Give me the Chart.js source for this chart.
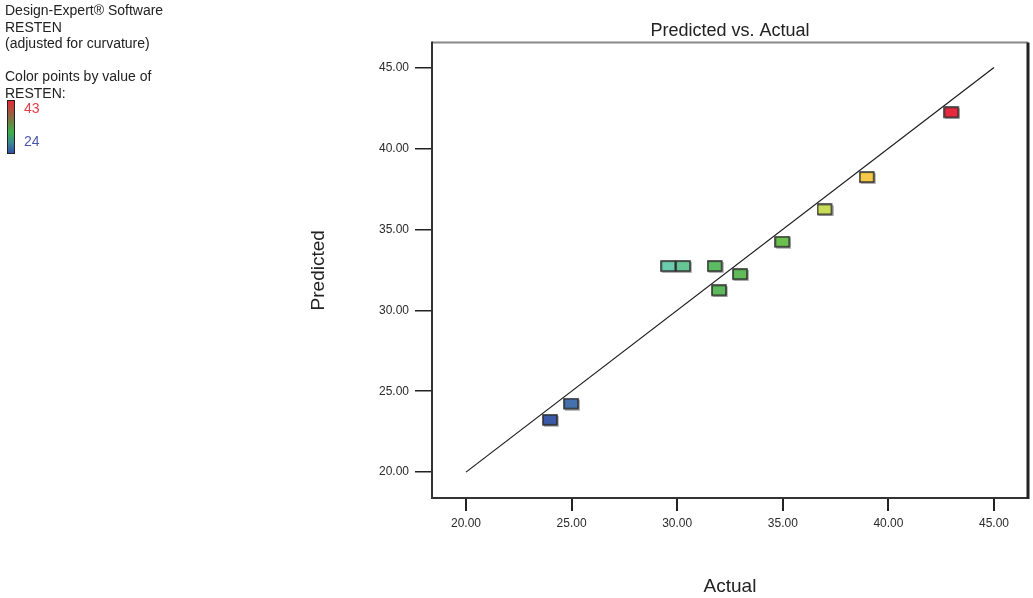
<!DOCTYPE html>
<html>
<head>
<meta charset="utf-8">
<script src="https://cdn.jsdelivr.net/npm/chart.js@4"></script>
<style>
  body { margin: 0; background: #fff; font-family: "Liberation Sans", Arial, sans-serif; }
  #wrap { position: relative; width: 1033px; height: 598px; }
  #note { position: absolute; left: 5px; top: 2px; font-size: 14px; line-height: 16.6px; color: #222; white-space: nowrap; }
  #bar { position: absolute; left: 7px; top: 100px; width: 6px; height: 52px; border: 1px solid #222;
    background: linear-gradient(to bottom, #e82838 0%, #8a6a40 30%, #3cb048 60%, #3a8a90 80%, #3450a8 100%); }
  #hi { position: absolute; left: 24px; top: 100px; font-size: 14px; color: #e43c48; }
  #lo { position: absolute; left: 24px; top: 133px; font-size: 14px; color: #4a58a8; }
</style>
</head>
<body>
<div id="wrap">
  <canvas id="myChart" width="1033" height="598"></canvas>
  <div id="note">Design-Expert® Software<br>RESTEN<br>(adjusted for curvature)<br><br>Color points by value of<br>RESTEN:</div>
  <div id="bar"></div>
  <div id="hi">43</div>
  <div id="lo">24</div>
</div>
<script>
// data
const actual    = [24, 25, 29.6, 30.3, 31.8, 32, 33, 35, 37, 39, 43];
const predicted = [23.2, 24.2, 32.7, 32.7, 32.7, 31.2, 32.2, 34.2, 36.2, 38.2, 42.2];
const lineEnds  = [20, 45];
const tickValues = [20, 25, 30, 35, 40, 45];

// colour ramp used to paint points by their RESTEN value
const ramp = [
  [24, [59, 91, 168]],
  [29, [110, 208, 192]],
  [32, [92, 186, 92]],
  [35, [108, 192, 80]],
  [37, [200, 220, 88]],
  [39, [245, 200, 74]],
  [43, [232, 40, 60]]
];

function colorFor(v) {
  if (v <= ramp[0][0]) return 'rgb(' + ramp[0][1].join(',') + ')';
  for (let i = 1; i < ramp.length; i++) {
    if (v <= ramp[i][0]) {
      const [a, ca] = ramp[i - 1], [b, cb] = ramp[i];
      const t = (v - a) / (b - a);
      const c = ca.map((x, k) => Math.round(x + (cb[k] - x) * t));
      return 'rgb(' + c.join(',') + ')';
    }
  }
  return 'rgb(' + ramp[ramp.length - 1][1].join(',') + ')';
}

// little rectangles like the Design-Expert markers
function makeBox(color) {
  const c = document.createElement('canvas');
  c.width = 17; c.height = 13;
  const g = c.getContext('2d');
  g.fillStyle = 'rgba(0,0,0,0.25)';
  g.fillRect(2, 2, 15, 11);
  g.fillStyle = color;
  g.fillRect(1, 1, 14, 10);
  g.strokeStyle = '#2a2a2a';
  g.lineWidth = 1.5;
  g.strokeRect(1, 1, 14, 10);
  return c;
}

const boxes = actual.map(v => makeBox(colorFor(v)));

const frame = {
  id: 'frame',
  afterDraw(chart) {
    const { ctx, chartArea: a } = chart;
    ctx.save();
    ctx.lineWidth = 2;
    ctx.strokeStyle = '#888';
    ctx.beginPath(); ctx.moveTo(a.left, a.top); ctx.lineTo(a.right, a.top); ctx.stroke();
    ctx.strokeStyle = '#333';
    ctx.beginPath(); ctx.moveTo(a.left, a.top - 1); ctx.lineTo(a.left, a.bottom); ctx.lineTo(a.right, a.bottom); ctx.stroke();
    ctx.lineWidth = 3;
    ctx.strokeStyle = '#222';
    ctx.beginPath(); ctx.moveTo(a.right, a.top); ctx.lineTo(a.right, a.bottom + 1); ctx.stroke();
    ctx.restore();
  }
};

const tickFont = { family: '"Liberation Sans", Arial, sans-serif', size: 12 };
const titleFont = { family: '"Liberation Sans", Arial, sans-serif', size: 19 };

new Chart(document.getElementById('myChart'), {
  type: 'scatter',
  data: {
    datasets: [
      {
        label: 'points',
        data: actual.map((x, i) => ({ x: x, y: predicted[i] })),
        pointStyle: boxes,
        order: 0
      },
      {
        type: 'line',
        label: 'fit',
        data: lineEnds.map(v => ({ x: v, y: v })),
        borderColor: '#1a1a1a',
        borderWidth: 1.2,
        pointRadius: 0,
        fill: false,
        order: 1
      }
    ]
  },
  options: {
    responsive: false,
    animation: false,
    layout: { padding: { left: 290, right: 5, top: 0, bottom: 0 } },
    plugins: {
      legend: { display: false },
      tooltip: { enabled: false },
      title: {
        display: true,
        fullSize: false,
        text: 'Predicted vs. Actual',
        color: '#222',
        font: { family: '"Liberation Sans", Arial, sans-serif', size: 18, weight: 'normal' },
        padding: { top: 20, bottom: 1 }
      }
    },
    scales: {
      x: {
        type: 'linear',
        min: 18.39,
        max: 46.61,
        afterBuildTicks: s => { s.ticks = tickValues.map(v => ({ value: v })); },
        afterFit: s => { s.height = 100; },
        ticks: { color: '#2a2a2a', font: tickFont, padding: 5, callback: v => v.toFixed(2) },
        grid: { drawOnChartArea: false, drawTicks: true, tickLength: 13, color: '#222', lineWidth: 2 },
        border: { display: false },
        title: { display: true, text: 'Actual', color: '#222', font: titleFont, padding: { top: 0, bottom: 0 } }
      },
      y: {
        type: 'linear',
        min: 18.40,
        max: 46.54,
        afterBuildTicks: s => { s.ticks = tickValues.map(v => ({ value: v })); },
        afterFit: s => { s.width = 142; },
        ticks: { color: '#2a2a2a', font: tickFont, padding: 6, callback: v => v.toFixed(2) },
        grid: { drawOnChartArea: false, drawTicks: true, tickLength: 17, color: '#222', lineWidth: 1.5 },
        border: { display: false },
        title: { display: true, text: 'Predicted', color: '#222', font: titleFont, padding: { top: 17, bottom: 0 } }
      }
    }
  },
  plugins: [frame]
});
</script>
</body>
</html>
